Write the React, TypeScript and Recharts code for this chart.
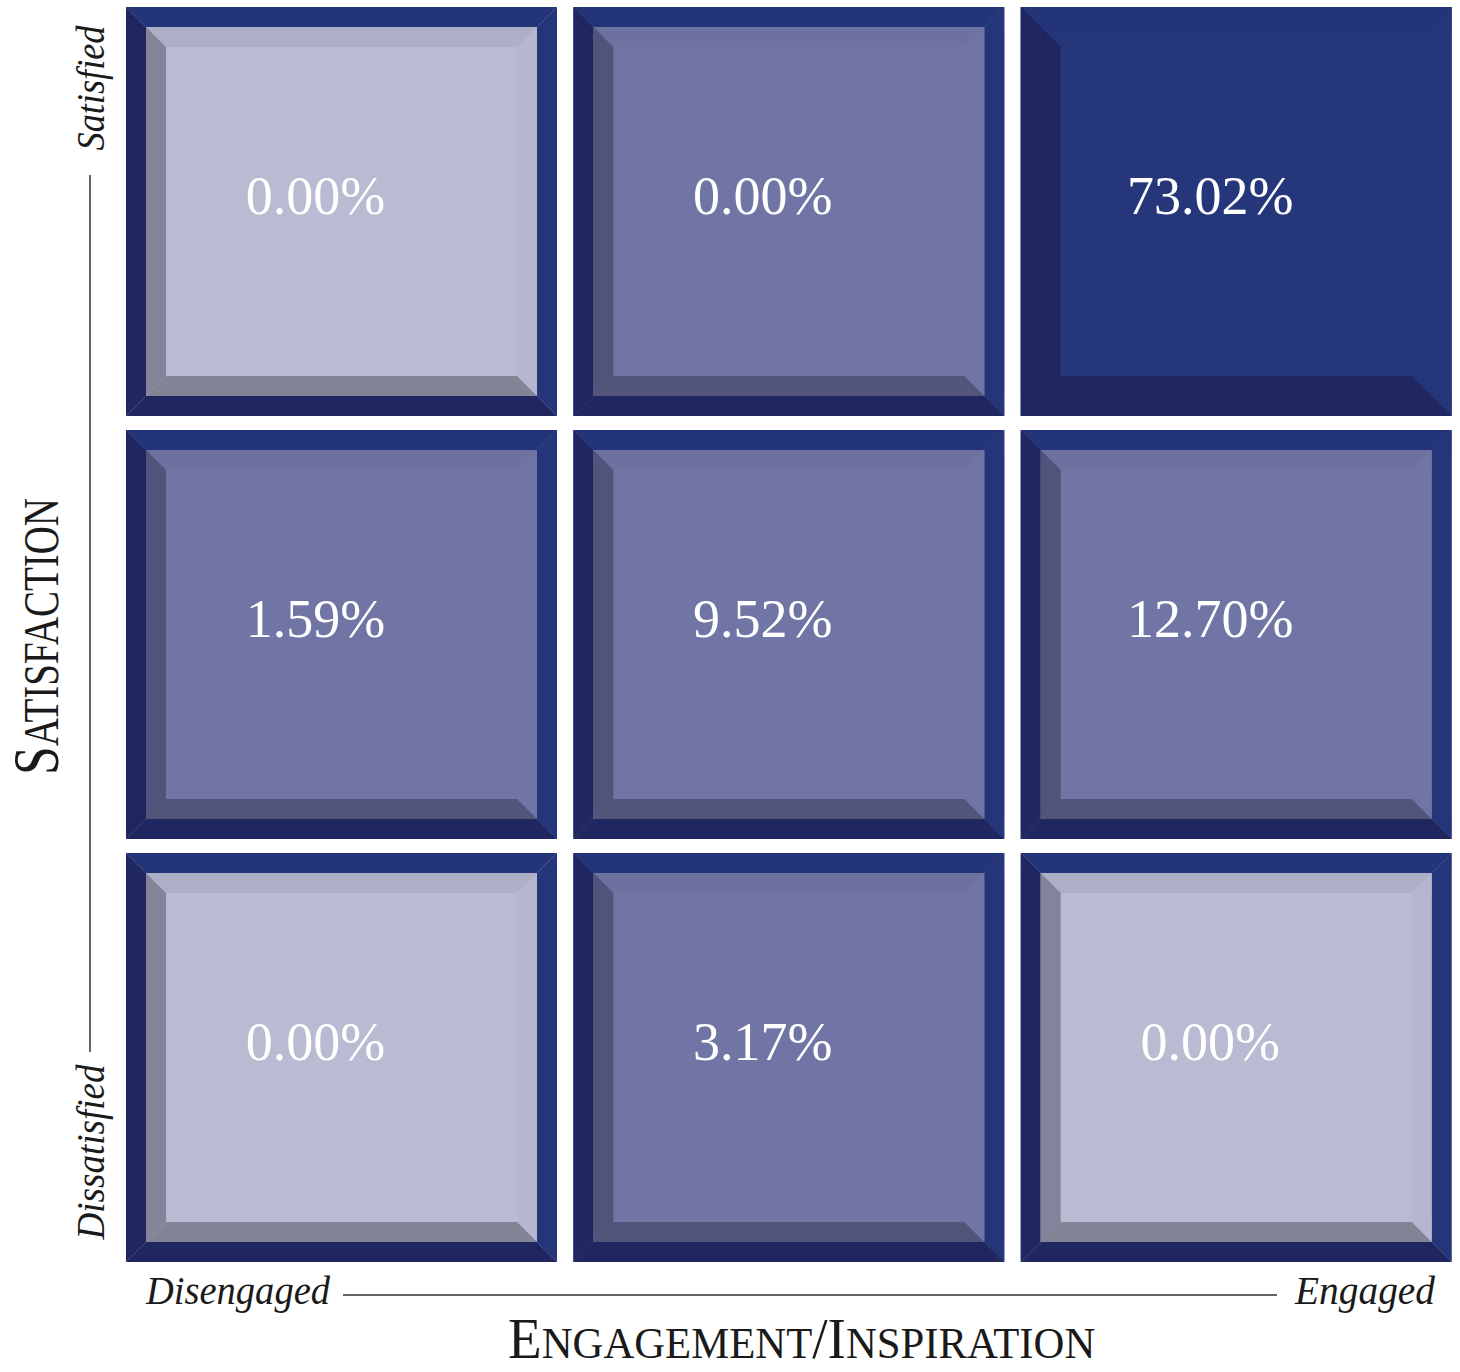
import { BarChart, Bar, XAxis, YAxis, Customized } from 'recharts'

// columns: engagement level, left to right
const COLUMNS = ['Disengaged', 'Neutral', 'Engaged']

// share of respondents per row (satisfaction level), one value per column
const DISSATISFIED = [0.0, 3.17, 0.0]
const NEUTRAL = [1.59, 9.52, 12.7]
const SATISFIED = [0.0, 0.0, 73.02]

// stacked bottom -> top
const ROWS = ['dissatisfied', 'neutral', 'satisfied']

const data = COLUMNS.map((name, i) => ({
  name,
  dissatisfied: 1,
  neutral: 1,
  satisfied: 1,
  dissatisfiedPct: DISSATISFIED[i],
  neutralPct: NEUTRAL[i],
  satisfiedPct: SATISFIED[i],
}))

const FRAME = { top: '#243478', right: '#243579', bottom: '#1f2660', left: '#1f2660' }

const LIGHT = { face: '#b8bbd1', top: '#acafc5', right: '#b4b7cf', bottom: '#828496', left: '#82849a' }
const MEDIUM = { face: '#7175a5', top: '#6d71a0', right: '#7175a6', bottom: '#525479', left: '#51537a' }
const DARK = { face: '#25377a', top: '#24357a', right: '#25377c', bottom: '#1f2660', left: '#1f2660' }

const FONT = '"Liberation Serif", "Times New Roman", serif'

// zone shading: corners light, top-right dark, everything else medium
function palette(row: string, col: number) {
  const topRow = row === 'satisfied'
  const bottomRow = row === 'dissatisfied'
  const lastCol = col === COLUMNS.length - 1
  if (topRow && lastCol) return DARK
  if ((topRow || bottomRow) && (col === 0 || lastCol)) return LIGHT
  return MEDIUM
}

function Bevel({ x0, y0, x1, y1, b, c }: any) {
  const pts = (a: number[][]) => a.map((p) => p.join(',')).join(' ')
  return (
    <g>
      <polygon points={pts([[x0, y0], [x1, y0], [x1 - b, y0 + b], [x0 + b, y0 + b]])} fill={c.top} />
      <polygon points={pts([[x1, y0], [x1, y1], [x1 - b, y1 - b], [x1 - b, y0 + b]])} fill={c.right} />
      <polygon points={pts([[x0, y1], [x1, y1], [x1 - b, y1 - b], [x0 + b, y1 - b]])} fill={c.bottom} />
      <polygon points={pts([[x0, y0], [x0 + b, y0 + b], [x0 + b, y1 - b], [x0, y1]])} fill={c.left} />
    </g>
  )
}

function Tile(props: any) {
  const { x, y, width, height, pct, row, index } = props
  const gapY = 7
  const x0 = x
  const x1 = x + width
  const y0 = y + gapY
  const y1 = y + height - gapY
  const f = 20
  const b = 20
  const c = palette(row, index)
  return (
    <g>
      <rect x={x0} y={y0} width={x1 - x0} height={y1 - y0} fill={c.face} />
      <Bevel x0={x0} y0={y0} x1={x1} y1={y1} b={f} c={FRAME} />
      <Bevel x0={x0 + f} y0={y0 + f} x1={x1 - f} y1={y1 - f} b={b} c={c} />
      <text
        x={(x0 + x1) / 2 - 26}
        y={(y0 + y1) / 2 - 16}
        textAnchor="middle"
        dominantBaseline="central"
        fill="#ffffff"
        fontFamily={FONT}
        fontSize={54}
      >
        {pct.toFixed(2) + '%'}
      </text>
    </g>
  )
}

function Labels() {
  return (
    <g fontFamily={FONT} fill="#1a1a1a">
      {/* vertical axis */}
      <text
        transform="translate(104,88) rotate(-90)"
        textAnchor="middle"
        fontStyle="italic"
        fontSize={40}
        textLength={125}
        lengthAdjust="spacingAndGlyphs"
      >
        Satisfied
      </text>
      <line x1={90} y1={175} x2={90} y2={1052} stroke="#333" strokeWidth={1.5} />
      <text
        transform="translate(104,1152) rotate(-90)"
        textAnchor="middle"
        fontStyle="italic"
        fontSize={40}
        textLength={175}
        lengthAdjust="spacingAndGlyphs"
      >
        Dissatisfied
      </text>
      <text transform="translate(58,775) rotate(-90) scale(0.78,1)">
        <tspan fontSize={66}>S</tspan>
        <tspan fontSize={50}>ATISFACTION</tspan>
      </text>

      {/* horizontal axis */}
      <text
        x={146}
        y={1304}
        fontStyle="italic"
        fontSize={40}
        textLength={184}
        lengthAdjust="spacingAndGlyphs"
      >
        Disengaged
      </text>
      <line x1={343} y1={1295} x2={1277} y2={1295} stroke="#333" strokeWidth={1.5} />
      <text
        x={1295}
        y={1304}
        fontStyle="italic"
        fontSize={40}
        textLength={140}
        lengthAdjust="spacingAndGlyphs"
      >
        Engaged
      </text>
      <text transform="translate(508,1358) scale(0.95,1)">
        <tspan fontSize={58}>E</tspan>
        <tspan fontSize={45}>NGAGEMENT</tspan>
        <tspan fontSize={58}>/I</tspan>
        <tspan fontSize={45}>NSPIRATION</tspan>
      </text>
    </g>
  )
}

export default function App() {
  return (
    <div style={{ width: 1460, height: 1372, background: '#ffffff' }}>
      <style>{'body{margin:0;}'}</style>
      <BarChart
        width={1460}
        height={1372}
        data={data}
        margin={{ top: 0, right: 0, left: 118, bottom: 103 }}
        barCategoryGap={8}
      >
        <XAxis dataKey="name" hide />
        <YAxis type="number" domain={[0, 3]} hide />
        {ROWS.map((row) => (
          <Bar
            key={row}
            dataKey={row}
            stackId="grid"
            isAnimationActive={false}
            shape={(p: any) => <Tile {...p} row={row} pct={p.payload[`${row}Pct`]} />}
          />
        ))}
        <Customized component={Labels} />
      </BarChart>
    </div>
  )
}
